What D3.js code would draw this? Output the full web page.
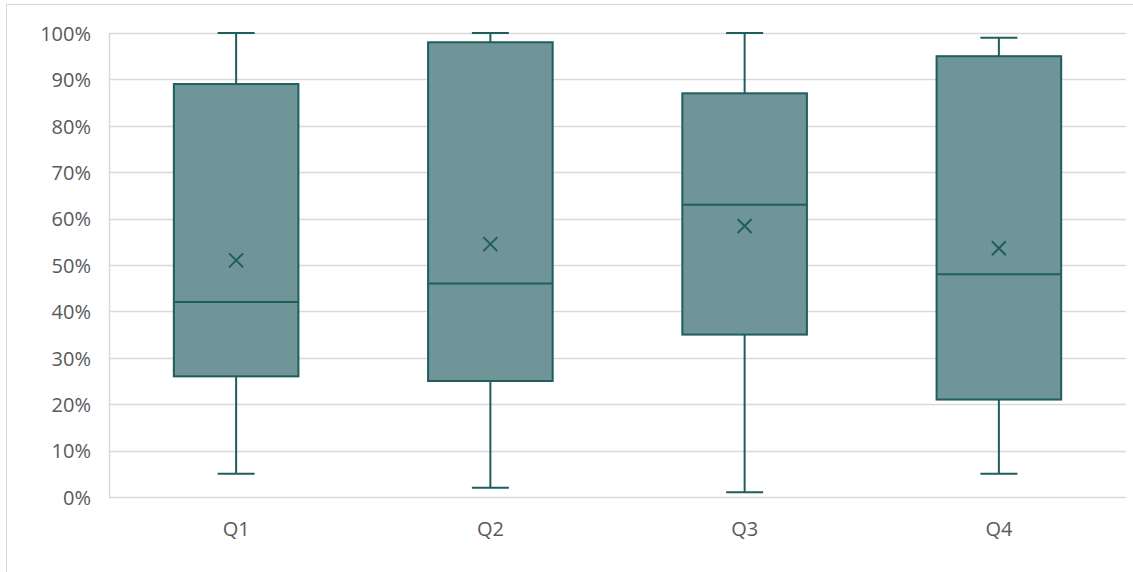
<!DOCTYPE html>
<html>
<head>
<meta charset="utf-8">
<script src="https://cdn.jsdelivr.net/npm/d3@7"></script>
<style>
  html, body { margin: 0; padding: 0; background: #fff; }
  svg { display: block; }
</style>
</head>
<body>
<svg id="chart" width="1133" height="572"></svg>
<script>
const categories = ["Q1", "Q2", "Q3", "Q4"];
const minValues = [0.05, 0.02, 0.01, 0.05];
const q1Values = [0.26, 0.25, 0.35, 0.21];
const medianValues = [0.42, 0.46, 0.63, 0.48];
const q3Values = [0.89, 0.98, 0.87, 0.95];
const maxValues = [1.00, 1.00, 1.00, 0.99];
const meanValues = [0.51, 0.545, 0.584, 0.536];
const yTicks = [0, 0.1, 0.2, 0.3, 0.4, 0.5, 0.6, 0.7, 0.8, 0.9, 1.0];

(function () {
const svg = d3.select("#chart");
const W = 1133, H = 572;
const pLeft = 109, pRight = 1126, pTop = 33, pBottom = 497;

// chart border
svg.append("rect").attr("x", 6.5).attr("y", 4.5).attr("width", W).attr("height", H)
  .attr("fill", "#fff").attr("stroke", "#d9d9d9").attr("stroke-width", 1);

const x = d3.scaleBand().domain(categories).range([pLeft, pRight]).paddingInner(0).paddingOuter(0);
const y = d3.scaleLinear().domain([0, 1]).range([pBottom, pTop]);

// gridlines
svg.append("g").selectAll("line").data(yTicks).join("line")
  .attr("x1", pLeft).attr("x2", pRight)
  .attr("y1", d => Math.round(y(d)) + 0.5).attr("y2", d => Math.round(y(d)) + 0.5)
  .attr("stroke", "#d9d9d9").attr("stroke-width", 1.5);

// left axis line
svg.append("line").attr("x1", pLeft + 0.5).attr("x2", pLeft + 0.5).attr("y1", pTop).attr("y2", pBottom)
  .attr("stroke", "#d9d9d9").attr("stroke-width", 1.5);

// y axis labels
const yAxis = d3.axisLeft(y).tickValues(yTicks).tickFormat(d3.format(".0%")).tickSize(0).tickPadding(18);
const gy = svg.append("g").attr("transform", `translate(${pLeft},0)`).call(yAxis);
gy.select(".domain").remove();
gy.selectAll("text").attr("font-family", "'Open Sans', sans-serif").attr("font-size", 20)
  .attr("fill", "#595959").attr("dy", "0.36em");

// x axis labels
const xAxis = d3.axisBottom(x).tickSize(0).tickPadding(25);
const gx = svg.append("g").attr("transform", `translate(0,${pBottom})`).call(xAxis);
gx.select(".domain").remove();
gx.selectAll("text").attr("font-family", "'Open Sans', sans-serif").attr("font-size", 20)
  .attr("fill", "#595959");

const stroke = "#1f5e5c";
const fill = "#6f9598";
const data = categories.map((c, i) => ({
  c, min: minValues[i], q1: q1Values[i], med: medianValues[i], q3: q3Values[i], max: maxValues[i], mean: meanValues[i]
}));

const boxW = x.bandwidth() * 0.49;
const capW = 37;

const g = svg.append("g").selectAll("g").data(data).join("g")
  .attr("transform", d => `translate(${x(d.c) + x.bandwidth() / 2},0)`);

// whiskers
g.append("line").attr("x1", 0).attr("x2", 0).attr("y1", d => y(d.max)).attr("y2", d => y(d.q3))
  .attr("stroke", stroke).attr("stroke-width", 2);
g.append("line").attr("x1", 0).attr("x2", 0).attr("y1", d => y(d.q1)).attr("y2", d => y(d.min))
  .attr("stroke", stroke).attr("stroke-width", 2);
g.append("line").attr("x1", -capW / 2).attr("x2", capW / 2).attr("y1", d => y(d.max)).attr("y2", d => y(d.max))
  .attr("stroke", stroke).attr("stroke-width", 2);
g.append("line").attr("x1", -capW / 2).attr("x2", capW / 2).attr("y1", d => y(d.min)).attr("y2", d => y(d.min))
  .attr("stroke", stroke).attr("stroke-width", 2);

// box
g.append("rect").attr("x", -boxW / 2).attr("width", boxW)
  .attr("y", d => y(d.q3)).attr("height", d => y(d.q1) - y(d.q3))
  .attr("fill", fill).attr("stroke", stroke).attr("stroke-width", 2);

// median
g.append("line").attr("x1", -boxW / 2).attr("x2", boxW / 2).attr("y1", d => y(d.med)).attr("y2", d => y(d.med))
  .attr("stroke", stroke).attr("stroke-width", 2);

// mean marker (x)
const m = 7;
g.append("path")
  .attr("d", d => `M${-m},${y(d.mean) - m}L${m},${y(d.mean) + m}M${m},${y(d.mean) - m}L${-m},${y(d.mean) + m}`)
  .attr("stroke", stroke).attr("stroke-width", 2).attr("fill", "none");
})();
</script>
</body>
</html>
